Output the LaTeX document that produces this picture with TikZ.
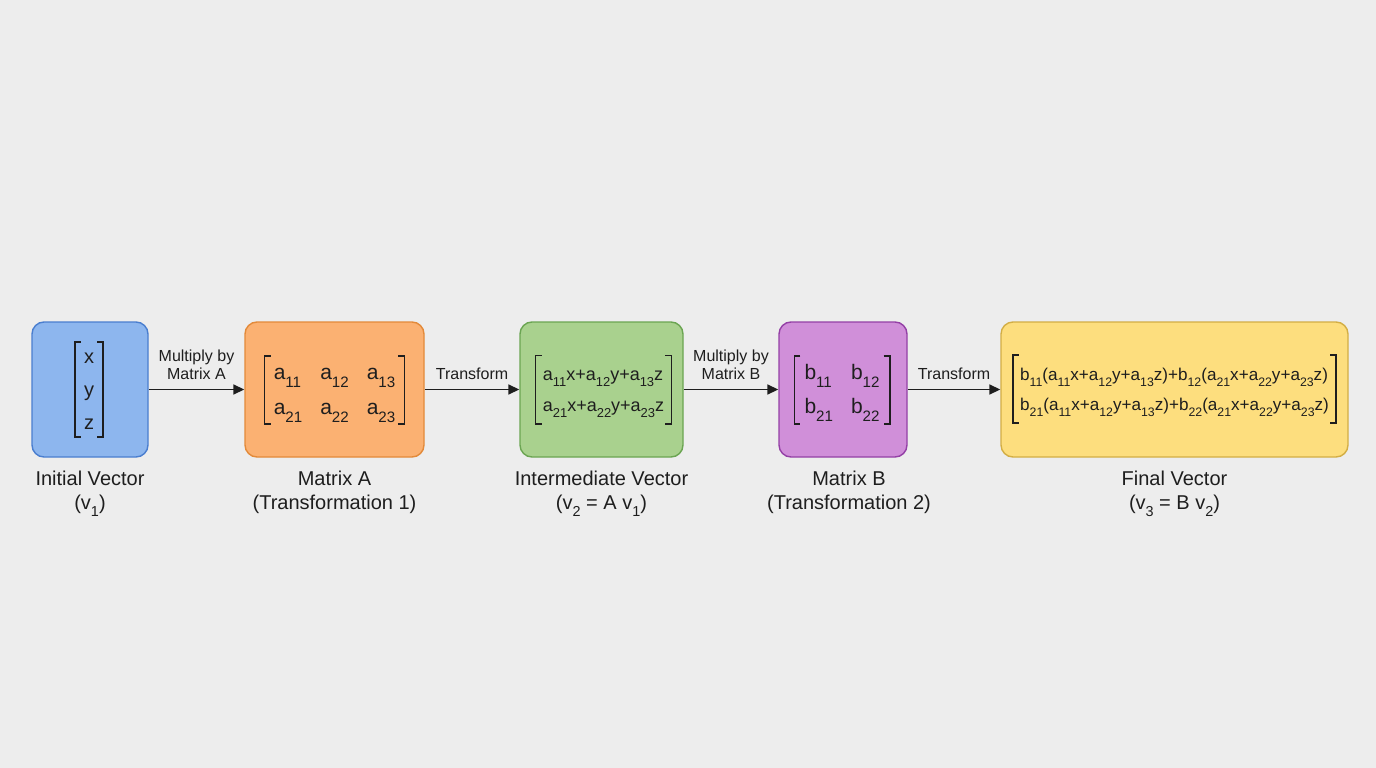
\documentclass[tikz,border=0pt]{standalone}
\usepackage{fontspec}
\setmainfont{Liberation Sans}
\usepackage{graphicx}
\usetikzlibrary{arrows.meta}
\definecolor{bgc}{HTML}{EDEDED}
\definecolor{bluef}{HTML}{8DB6EE}
\definecolor{blued}{HTML}{4A7ECF}
\definecolor{orangef}{HTML}{FBB172}
\definecolor{oranged}{HTML}{E38A3A}
\definecolor{greenf}{HTML}{A9D18E}
\definecolor{greend}{HTML}{6BA552}
\definecolor{purplef}{HTML}{D08FD9}
\definecolor{purpled}{HTML}{9440A6}
\definecolor{yellowf}{HTML}{FDDE7E}
\definecolor{yellowd}{HTML}{D3AE45}
\definecolor{ink}{HTML}{1E1E1E}
\newcommand\subs[1]{\raisebox{-0.36em}{\scalebox{0.72}{#1}}}
\tikzset{
  box/.style={draw, line width=1.4pt, rounded corners=12pt, inner sep=0pt},
  content/.style={inner sep=0pt, text=ink},
  brk/.style={draw=ink, line width=1.6pt},
  lbl/.style={align=center, text=ink, font=\fontsize{20}{24}\selectfont, inner sep=0pt},
  elbl/.style={align=center, text=ink, font=\fontsize{16}{18}\selectfont, inner sep=0pt},
  arr/.style={draw=ink, line width=1.7pt, -{Triangle[length=11pt,width=10pt]}}
}
\newcommand\brackets[2]{%
  \draw[brk] ([xshift=6pt,yshift=0pt]#1.north west) -- (#1.north west) -- (#1.south west) -- ([xshift=6pt]#1.south west);
  \draw[brk] ([xshift=-6pt]#1.north east) -- (#1.north east) -- (#1.south east) -- ([xshift=-6pt]#1.south east);
}
\begin{document}
\begin{tikzpicture}[x=1pt,y=-1pt]
\fill[bgc] (0,0) rectangle (1376,768);
\useasboundingbox (0,0) rectangle (1376,768);

% boxes
\node[box, fill=bluef, draw=blued, minimum width=116pt, minimum height=135pt] (b1) at (90,389.5) {};
\node[box, fill=orangef, draw=oranged, minimum width=179pt, minimum height=135pt] (b2) at (334.5,389.5) {};
\node[box, fill=greenf, draw=greend, minimum width=163pt, minimum height=135pt] (b3) at (601.5,389.5) {};
\node[box, fill=purplef, draw=purpled, minimum width=128pt, minimum height=135pt] (b4) at (843,389.5) {};
\node[box, fill=yellowf, draw=yellowd, minimum width=347pt, minimum height=135pt] (b5) at (1174.5,389.5) {};

% contents
\node[content, inner xsep=9pt, inner ysep=-2pt] (c1) at (89,389.5)
  {\fontsize{20}{33}\selectfont\begin{tabular}{@{}c@{}}x\\y\\z\end{tabular}};
\brackets{c1}{}
\node[content, inner xsep=9pt, inner ysep=-1pt] (c2) at (334.5,390)
  {\fontsize{21}{35}\selectfont\begin{tabular}{@{}l@{\hspace{18pt}}l@{\hspace{18pt}}l@{}}a\subs{11} & a\subs{12} & a\subs{13}\\ a\subs{21} & a\subs{22} & a\subs{23}\end{tabular}};
\brackets{c2}{}
\node[content, inner xsep=7pt, inner ysep=3pt] (c3) at (603.5,389.5)
  {\fontsize{18}{31}\selectfont\begin{tabular}{@{}l@{}}a\subs{11}x+a\subs{12}y+a\subs{13}z\\ a\subs{21}x+a\subs{22}y+a\subs{23}z\end{tabular}};
\brackets{c3}{}
\node[content, inner xsep=10pt, inner ysep=0pt] (c4) at (842,390)
  {\fontsize{21}{34}\selectfont\begin{tabular}{@{}l@{\hspace{18pt}}l@{}}b\subs{11} & b\subs{12}\\ b\subs{21} & b\subs{22}\end{tabular}};
\brackets{c4}{}
\node[content, inner xsep=7pt, inner ysep=4pt] (c5) at (1174.5,389)
  {\fontsize{17.1}{30}\selectfont\begin{tabular}{@{}l@{}}b\subs{11}(a\subs{11}x+a\subs{12}y+a\subs{13}z)+b\subs{12}(a\subs{21}x+a\subs{22}y+a\subs{23}z)\\ b\subs{21}(a\subs{11}x+a\subs{12}y+a\subs{13}z)+b\subs{22}(a\subs{21}x+a\subs{22}y+a\subs{23}z)\end{tabular}};
\brackets{c5}{}

% arrows
\draw[arr] (b1.east) -- (b2.west) node[midway, elbl, anchor=south, yshift=9pt] (e1) {Multiply by\\Matrix A};
\draw[arr] (b2.east) -- (b3.west) node[midway, elbl, anchor=south, yshift=9pt] (e2) {Transform};
\draw[arr] (b3.east) -- (b4.west) node[midway, elbl, anchor=south, yshift=9pt] (e3) {Multiply by\\Matrix B};
\draw[arr] (b4.east) -- (b5.west) node[midway, elbl, anchor=south, yshift=9pt] (e4) {Transform};

% labels
\node[lbl, anchor=north] (l1) at (90,471) {Initial Vector\\(v\subs{1})};
\node[lbl, anchor=north] (l2) at (334.5,471) {Matrix A\\(Transformation 1)};
\node[lbl, anchor=north] (l3) at (601.5,471) {Intermediate Vector\\(v\subs{2} = A v\subs{1})};
\node[lbl, anchor=north] (l4) at (849,471) {Matrix B\\(Transformation 2)};
\node[lbl, anchor=north] (l5) at (1174.5,471) {Final Vector\\(v\subs{3} = B v\subs{2})};
\end{tikzpicture}
\end{document}
